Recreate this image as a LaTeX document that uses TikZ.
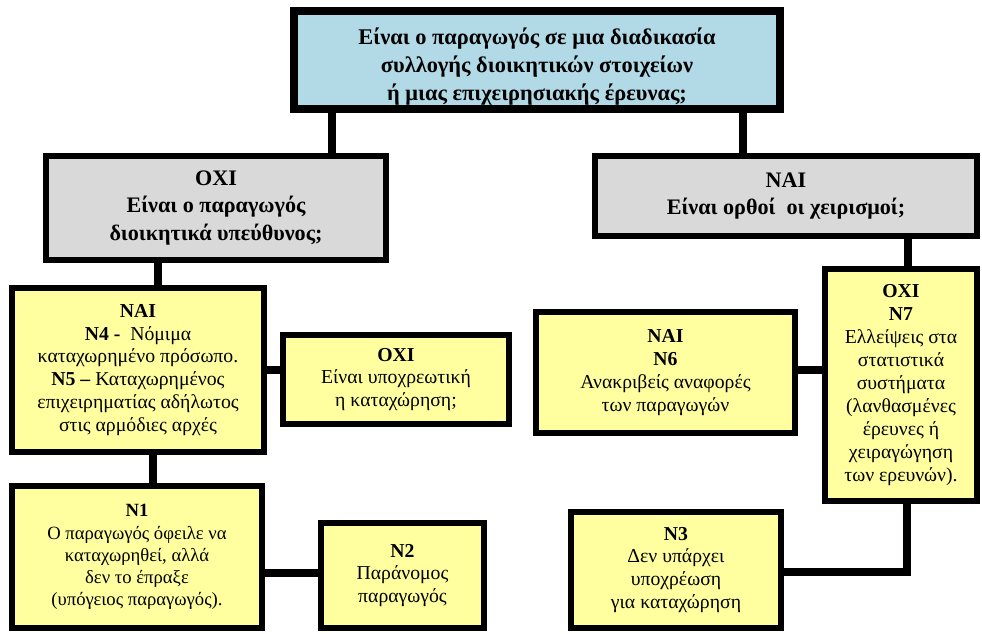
\documentclass[tikz,border=0pt]{standalone}
\usepackage{fontspec}
\setmainfont{Liberation Serif}
\definecolor{boxblue}{RGB}{178,218,230}
\definecolor{boxgray}{RGB}{217,217,217}
\definecolor{boxyellow}{RGB}{255,255,160}
\tikzset{
  box/.style={draw=black, line width=5pt, inner sep=0pt, align=center},
  bluebox/.style={box, fill=boxblue, line width=6pt},
  graybox/.style={box, fill=boxgray, font=\fontsize{16.6}{20.5}\selectfont\bfseries},
  yellowbox/.style={box, fill=boxyellow, font=\fontsize{14.8}{17.2}\selectfont},
  link/.style={draw=black, line width=5.5pt},
}
\begin{document}
\begin{tikzpicture}[x=0.75pt, y=-0.75pt]
\useasboundingbox (0,0) rectangle (982,633);
% boxes
\node[bluebox, minimum width=364.5pt, minimum height=73.5pt] (top) at (537,60) {};
\node[align=center, inner sep=0pt, font=\fontsize{16.8}{21}\selectfont\bfseries] (toptext) at (537,67)
  {Είναι ο παραγωγός σε μια διαδικασία\\ συλλογής διοικητικών στοιχείων\\ ή μιας επιχειρησιακής έρευνας;};
\node[graybox, minimum width=255pt, minimum height=78pt] (lg) at (216,208)
  {ΟΧΙ\\ Είναι ο παραγωγός\\ διοικητικά υπεύθυνος;};
\node[graybox, minimum width=286.5pt, minimum height=60pt] (rg) at (786,196)
  {ΝΑΙ\\ Είναι ορθοί\ \ οι χειρισμοί;};
\node[yellowbox, minimum width=189pt, minimum height=123pt] (n4) at (138,370)
  {\textbf{ΝΑΙ}\\ \textbf{N4 -}\ \ Νόμιμα\\ καταχωρημένο πρόσωπο.\\ \textbf{N5 –} Καταχωρημένος\\ επιχειρηματίας αδήλωτος\\ στις αρμόδιες αρχές};
\node[yellowbox, minimum width=169.5pt, minimum height=66.75pt] (oxi) at (396,379.5)
  {\textbf{ΟΧΙ}\\ Είναι υποχρεωτική\\ η καταχώρηση;};
\node[yellowbox, minimum width=187.5pt, minimum height=106.5pt, font=\fontsize{14}{16.6}\selectfont] (n1) at (137,557)
  {\textbf{N1}\\ Ο παραγωγός όφειλε να\\ καταχωρηθεί, αλλά\\ δεν το έπραξε\\ (υπόγειος παραγωγός).};
\node[yellowbox, minimum width=122.25pt, minimum height=78.75pt] (n2) at (402.5,575.5)
  {\textbf{N2}\\ Παράνομος\\ παραγωγός};
\node[yellowbox, minimum width=194.25pt, minimum height=90.75pt] (n6) at (665.5,372.5)
  {\textbf{ΝΑΙ}\\ \textbf{N6}\\ Ανακριβείς αναφορές\\ των παραγωγών};
\node[yellowbox, minimum width=114pt, minimum height=174pt] (n7) at (901,385)
  {\textbf{ΟΧΙ}\\ \textbf{N7}\\ Ελλείψεις στα\\ στατιστικά\\ συστήματα\\ (λανθασμένες\\ έρευνες ή\\ χειραγώγηση\\ των ερευνών).};
\node[yellowbox, minimum width=157.5pt, minimum height=87pt] (n3) at (676,570)
  {\textbf{N3}\\ Δεν υπάρχει\\ υποχρέωση\\ για καταχώρηση};
% connectors
\draw[link] (top.south -| 332,0) -- (lg.north -| 332,0);
\draw[link] (top.south -| 743,0) -- (rg.north -| 743,0);
\draw[link] (lg.south -| 158,0) -- (n4.north -| 158,0);
\draw[link] (n4.east) -- (n4.east -| oxi.west);
\draw[link] (n4.south -| 153,0) -- (n1.north -| 153,0);
\draw[link] (n1.east |- 0,573) -- (n2.west |- 0,573);
\draw[link] (rg.south -| 908,0) -- (n7.north -| 908,0);
\draw[link] (n7.west |- 0,370) -- (n6.east |- 0,370);
\draw[link] (n7.south -| 907,0) |- (n3.east |- 0,572);
\end{tikzpicture}
\end{document}
